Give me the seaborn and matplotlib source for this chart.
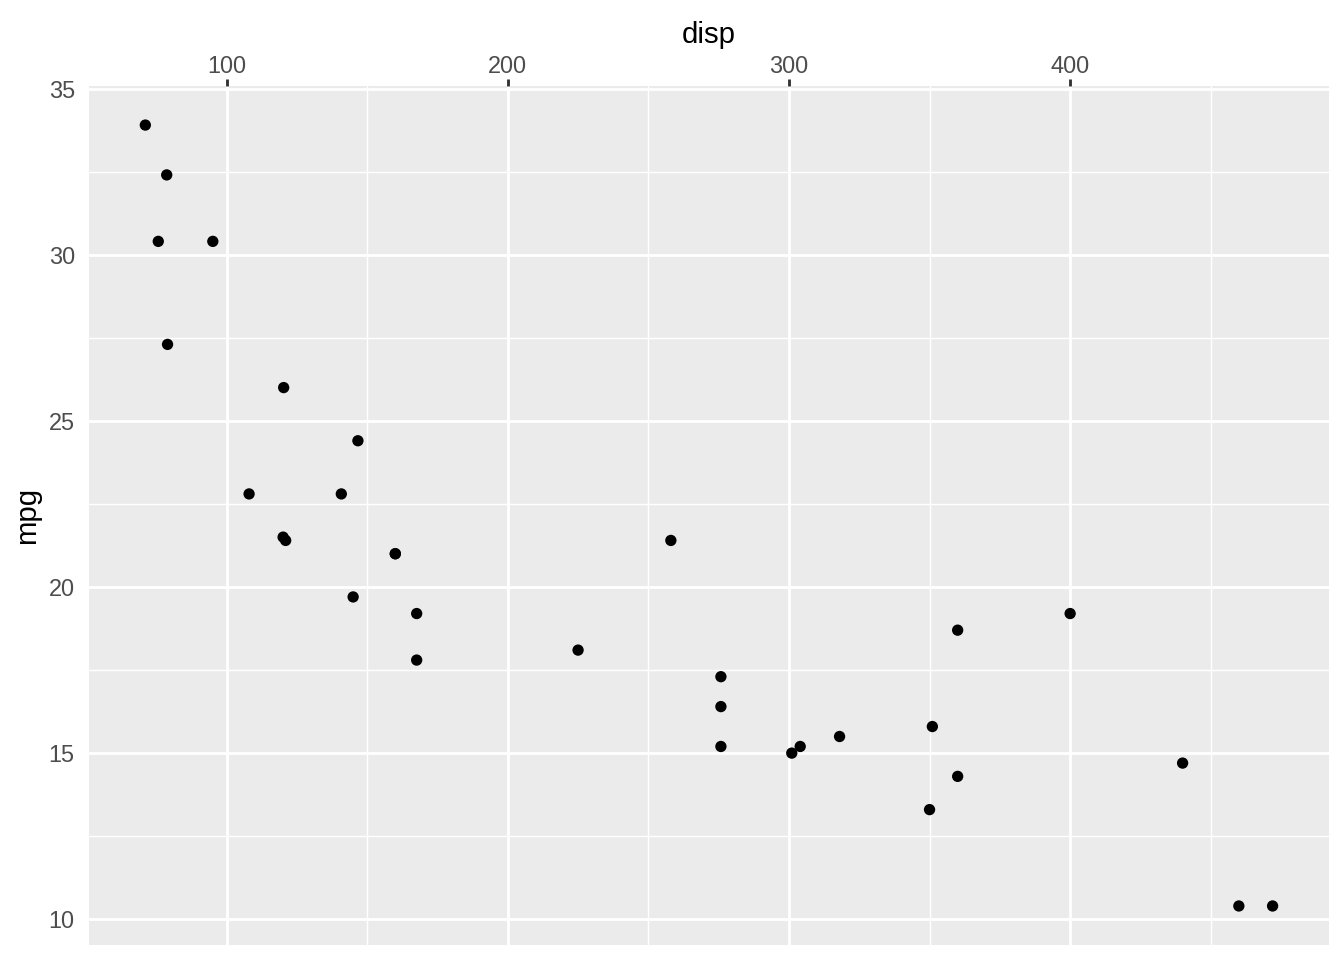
import pandas as pd
import matplotlib
matplotlib.use("Agg")
import matplotlib.pyplot as plt
import seaborn as sns

# mtcars: displacement vs miles per gallon
disp = [160, 160, 108, 258, 360, 225, 360, 146.7, 140.8, 167.6, 167.6,
        275.8, 275.8, 275.8, 472, 460, 440, 78.7, 75.7, 71.1, 120.1,
        318, 304, 350, 400, 79, 120.3, 95.1, 351, 145, 301, 121]
mpg = [21.0, 21.0, 22.8, 21.4, 18.7, 18.1, 14.3, 24.4, 22.8, 19.2, 17.8,
       16.4, 17.3, 15.2, 10.4, 10.4, 14.7, 32.4, 30.4, 33.9, 21.5,
       15.5, 15.2, 13.3, 19.2, 27.3, 26.0, 30.4, 15.8, 19.7, 15.0, 21.4]
x_ticks = [100, 200, 300, 400]
y_ticks = [10, 15, 20, 25, 30, 35]
x_minor = [150, 250, 350, 450]
y_minor = [12.5, 17.5, 22.5, 27.5, 32.5]

df = pd.DataFrame({"disp": disp, "mpg": mpg})

# ggplot2-like grey theme
sns.set_theme(style="darkgrid", rc={
    "axes.facecolor": "#EBEBEB",
    "grid.color": "white",
    "axes.edgecolor": "none",
})
plt.rcParams["font.family"] = ["Liberation Sans", "DejaVu Sans"]

fig = plt.figure(figsize=(7, 5), dpi=192)
ax = fig.add_axes([0.0662, 0.0156, 0.9226, 0.8948])

sns.scatterplot(data=df, x="disp", y="mpg", ax=ax, color="black",
                s=18, edgecolor="none", linewidth=0, zorder=3)

# 5% expansion like ggplot
xr = max(disp) - min(disp)
yr = max(mpg) - min(mpg)
ax.set_xlim(min(disp) - 0.05 * xr, max(disp) + 0.05 * xr)
ax.set_ylim(min(mpg) - 0.05 * yr, max(mpg) + 0.05 * yr)

ax.set_xticks(x_ticks)
ax.set_yticks(y_ticks)
ax.xaxis.set_minor_locator(plt.FixedLocator(x_minor))
ax.yaxis.set_minor_locator(plt.FixedLocator(y_minor))

ax.grid(which="major", color="white", linewidth=1.07)
ax.grid(which="minor", color="white", linewidth=0.53)
ax.set_axisbelow(True)

ax.xaxis.tick_top()
ax.xaxis.set_label_position("top")
ax.tick_params(axis="both", which="major", length=2.75, width=1.07,
               color="#333333", labelcolor="#4D4D4D", labelsize=8.8)
ax.tick_params(axis="x", which="major", pad=0.4)
ax.tick_params(axis="y", which="major", pad=2.6)
ax.tick_params(axis="both", which="minor", length=0)

ax.set_xlabel("disp", fontsize=11, color="black", labelpad=4.3)
ax.set_ylabel("mpg", fontsize=11, color="black", labelpad=3.0)

for s in ax.spines.values():
    s.set_visible(False)

fig.savefig("out.png", dpi=192)
plt.close(fig)
